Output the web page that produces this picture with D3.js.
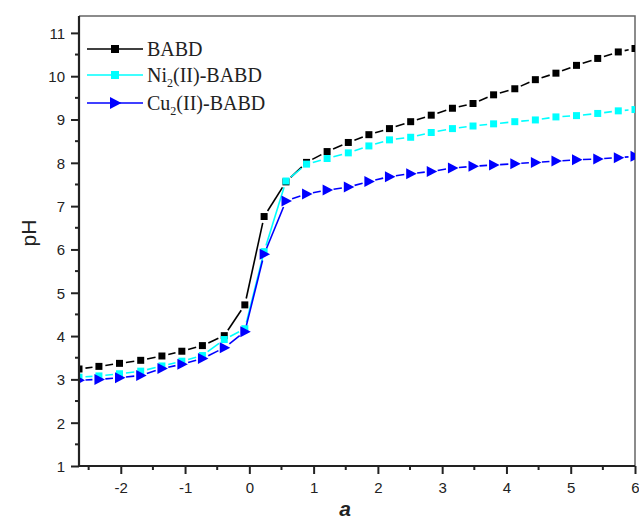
<!DOCTYPE html>
<html lang="en">
<head>
<meta charset="UTF-8">
<title>pH titration curves</title>
<script src="https://cdn.jsdelivr.net/npm/d3@7"></script>
<style>
    body { margin: 0; background: #fff; }
    svg { display: block; }
    .tick text { font-family: "Liberation Sans", Arial, sans-serif; font-size: 15px; fill: #222; }
</style>
</head>
<body>
<div id="chart"></div>
<script>
// a values (x) shared by all three curves
const aValues = [-2.65, -2.34, -2.02, -1.69, -1.36, -1.05, -0.73, -0.39, -0.07, 0.23, 0.57, 0.89,
    1.21, 1.54, 1.86, 2.18, 2.51, 2.83, 3.16, 3.48, 3.80, 4.13, 4.45, 4.77, 5.09, 5.42, 5.74, 6.0];

const phBABD = [3.24, 3.30, 3.37, 3.44, 3.54, 3.65, 3.78, 4.01, 4.72, 6.76, 7.56, 8.01,
    8.26, 8.47, 8.65, 8.79, 8.95, 9.10, 9.26, 9.37, 9.57, 9.71, 9.92, 10.07, 10.25, 10.41, 10.56, 10.64];
const phNi = [3.05, 3.08, 3.13, 3.19, 3.31, 3.42, 3.55, 3.92, 4.17, 5.95, 7.58, 7.97,
    8.10, 8.23, 8.39, 8.53, 8.59, 8.70, 8.79, 8.85, 8.90, 8.95, 8.99, 9.06, 9.09, 9.14, 9.20, 9.23];
const phCu = [2.98, 3.00, 3.04, 3.09, 3.25, 3.35, 3.48, 3.73, 4.10, 5.89, 7.12, 7.28,
    7.37, 7.44, 7.57, 7.68, 7.75, 7.80, 7.88, 7.92, 7.95, 7.98, 8.01, 8.04, 8.07, 8.09, 8.12, 8.15];

const xTicks = [-2, -1, 0, 1, 2, 3, 4, 5, 6];
const yTicks = [1, 2, 3, 4, 5, 6, 7, 8, 9, 10, 11];

const series = [
    { name: "BABD", sub: null, values: phBABD, color: "#000000", marker: "square" },
    { name: "Ni", sub: "2", rest: "(II)-BABD", values: phNi, color: "#00ffff", marker: "square" },
    { name: "Cu", sub: "2", rest: "(II)-BABD", values: phCu, color: "#0000ff", marker: "triangle" }
];

const width = 639, height = 520;
const margin = { left: 79, right: 4, top: 16, bottom: 54 };

const svg = d3.select("#chart").append("svg")
    .attr("width", width)
    .attr("height", height);

const x = d3.scaleLinear().domain([-2.65, 6]).range([margin.left, width - margin.right]);
const y = d3.scaleLinear().domain([1, 11.39]).range([height - margin.bottom, margin.top]);

// clip to the frame
svg.append("clipPath").attr("id", "plotClip")
    .append("rect")
    .attr("x", margin.left)
    .attr("y", margin.top)
    .attr("width", width - margin.right - margin.left)
    .attr("height", height - margin.bottom - margin.top);

// top and right frame lines
svg.append("path")
    .attr("d", `M${margin.left},${margin.top}H${width - margin.right}V${height - margin.bottom}`)
    .attr("fill", "none")
    .attr("stroke", "#666")
    .attr("stroke-width", 1.5);

const plot = svg.append("g").attr("clip-path", "url(#plotClip)");

function markerPath(type) {
    if (type === "square") return "M-3.5,-3.5H3.5V3.5H-3.5Z";
    return "M-4.5,-5.5L6,0L-4.5,5.5Z";
}

// line segments with a small gap around each symbol
const gap = 6.5;
series.forEach(s => {
    const pts = aValues.map((a, i) => [x(a), y(s.values[i])]);
    const g = plot.append("g");
    for (let i = 0; i < pts.length - 1; i++) {
        const [x0, y0] = pts[i], [x1, y1] = pts[i + 1];
        const len = Math.hypot(x1 - x0, y1 - y0);
        if (len <= 2 * gap) continue;
        const ux = (x1 - x0) / len, uy = (y1 - y0) / len;
        g.append("line")
            .attr("x1", x0 + ux * gap).attr("y1", y0 + uy * gap)
            .attr("x2", x1 - ux * gap).attr("y2", y1 - uy * gap)
            .attr("stroke", s.color)
            .attr("stroke-width", 1.6);
    }
    g.selectAll("path.mk")
        .data(pts)
        .enter()
        .append("path")
        .attr("class", "mk")
        .attr("d", markerPath(s.marker))
        .attr("transform", d => `translate(${d[0]},${d[1]})`)
        .attr("fill", s.color);
});

// axes
const xMinor = d3.range(-2.5, 6, 1);
const yMinor = d3.range(1.5, 11, 1);
const plainFormat = d => String(d);   // keep ASCII hyphen for negatives

const xAxis = svg.append("g")
    .attr("transform", `translate(0,${height - margin.bottom})`)
    .call(d3.axisBottom(x).tickValues(xTicks).tickSize(8).tickPadding(6).tickFormat(plainFormat));
xAxis.append("g").selectAll("line")
    .data(xMinor).enter().append("line")
    .attr("x1", d => x(d)).attr("x2", d => x(d))
    .attr("y1", 0).attr("y2", 4)
    .attr("stroke", "#222").attr("stroke-width", 2);

const yAxis = svg.append("g")
    .attr("transform", `translate(${margin.left},0)`)
    .call(d3.axisLeft(y).tickValues(yTicks).tickSize(8).tickPadding(6).tickFormat(plainFormat));
yAxis.append("g").selectAll("line")
    .data(yMinor).enter().append("line")
    .attr("y1", d => y(d)).attr("y2", d => y(d))
    .attr("x1", 0).attr("x2", -4)
    .attr("stroke", "#222").attr("stroke-width", 2);

[xAxis, yAxis].forEach(ax => {
    ax.select(".domain").attr("stroke", "#222").attr("stroke-width", 2.2);
    ax.selectAll(".tick line").attr("stroke", "#222").attr("stroke-width", 2);
});
xAxis.select(".domain").attr("d", `M${margin.left},0H${width - margin.right}`);
yAxis.select(".domain").attr("d", `M0,${margin.top}V${height - margin.bottom}`);
xAxis.selectAll(".tick text").attr("dy", "0.85em");
yAxis.selectAll(".tick text").attr("dy", "0.36em");

// axis titles
svg.append("text")
    .attr("transform", `translate(36,233) rotate(-90)`)
    .attr("text-anchor", "middle")
    .style("font-family", "'Liberation Sans', Arial, sans-serif")
    .style("font-size", "21px")
    .attr("fill", "#222")
    .text("pH");

svg.append("text")
    .attr("x", 345)
    .attr("y", 516)
    .attr("text-anchor", "middle")
    .style("font-family", "'Liberation Sans', Arial, sans-serif")
    .style("font-size", "21px")
    .style("font-weight", "bold")
    .style("font-style", "italic")
    .attr("fill", "#222")
    .text("a");

// legend
const legendY = [49, 75, 103];
const legend = svg.append("g");
series.forEach((s, i) => {
    const ly = legendY[i];
    legend.append("line")
        .attr("x1", 87).attr("x2", 143)
        .attr("y1", ly).attr("y2", ly)
        .attr("stroke", s.color).attr("stroke-width", 1.6);
    legend.append("path")
        .attr("d", s.marker === "square" ? "M-4,-4H4V4H-4Z" : "M-5,-6L6.5,0L-5,6Z")
        .attr("transform", `translate(115,${ly})`)
        .attr("fill", s.color);
    const t = legend.append("text")
        .attr("x", 147)
        .attr("y", ly + 7)
        .style("font-family", "'Liberation Serif', 'Times New Roman', serif")
        .style("font-size", "20px")
        .attr("fill", "#222");
    t.append("tspan").text(s.name);
    if (s.sub) {
        t.append("tspan").attr("dy", 5).style("font-size", "12px").text(s.sub);
        t.append("tspan").attr("dy", -5).text(s.rest);
    }
});
</script>
</body>
</html>
